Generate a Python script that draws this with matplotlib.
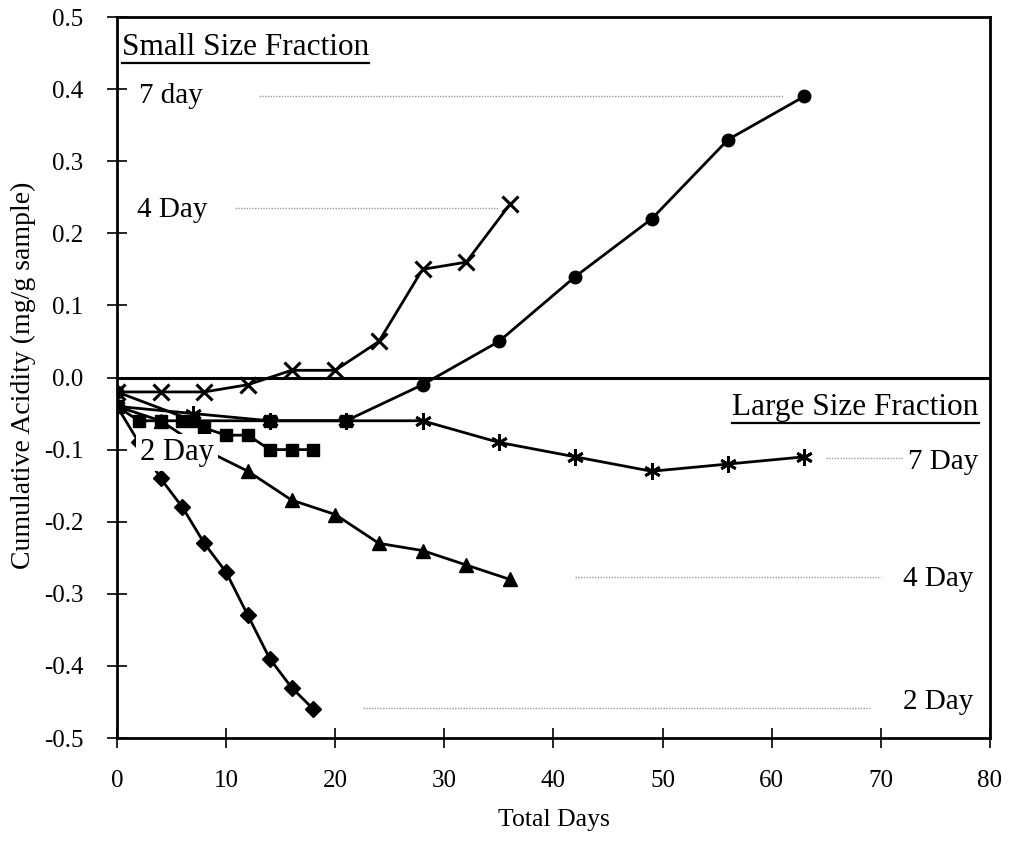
import matplotlib
matplotlib.use("Agg")
import matplotlib.pyplot as plt
from matplotlib.lines import Line2D

plt.rcParams['font.family'] = ['Liberation Serif', 'DejaVu Serif']

# ---- data ----
small7_days = [0, 7, 14, 21, 28, 35, 42, 49, 56, 63]
small7_vals = [-0.02, -0.06, -0.06, -0.06, -0.01, 0.05, 0.14, 0.22, 0.33, 0.39]

small4_days = [0, 4, 8, 12, 16, 20, 24, 28, 32, 36]
small4_vals = [-0.02, -0.02, -0.02, -0.01, 0.01, 0.01, 0.05, 0.15, 0.16, 0.24]

small2_days = [0, 2, 4, 6, 8, 10, 12, 14, 16, 18]
small2_vals = [-0.04, -0.06, -0.06, -0.06, -0.07, -0.08, -0.08, -0.10, -0.10, -0.10]

large7_days = [0, 7, 14, 21, 28, 35, 42, 49, 56, 63]
large7_vals = [-0.04, -0.05, -0.06, -0.06, -0.06, -0.09, -0.11, -0.13, -0.12, -0.11]

large4_days = [0, 4, 8, 12, 16, 20, 24, 28, 32, 36]
large4_vals = [-0.04, -0.06, -0.10, -0.13, -0.17, -0.19, -0.23, -0.24, -0.26, -0.28]

large2_days = [0, 2, 4, 6, 8, 10, 12, 14, 16, 18]
large2_vals = [-0.04, -0.09, -0.14, -0.18, -0.23, -0.27, -0.33, -0.39, -0.43, -0.46]

x_ticks = [0, 10, 20, 30, 40, 50, 60, 70, 80]
y_ticks = [-0.5, -0.4, -0.3, -0.2, -0.1, 0.0, 0.1, 0.2, 0.3, 0.4, 0.5]

fig = plt.figure(figsize=(10.19, 8.42), dpi=100)
ax = fig.add_axes([0.1148, 0.1235, 0.8567, 0.8563])

lw = 2.0
ms = 8
# zero line
ax.axhline(0, color='black', lw=2.2, zorder=1)

ax.plot(large2_days, large2_vals, color='black', lw=lw, marker='D', ms=8.5, zorder=3)
ax.plot(large4_days, large4_vals, color='black', lw=lw, marker='^', ms=10, zorder=3)
ax.plot(large7_days, large7_vals, color='black', lw=lw, marker=(6, 2, 0), ms=12, mew=2, zorder=3)
ax.plot(small2_days, small2_vals, color='black', lw=lw, marker='s', ms=ms, zorder=3)
ax.plot(small4_days, small4_vals, color='black', lw=lw, marker='x', ms=11, mew=2.2, zorder=3)
# small 7-day: squares for early points, circles afterwards
ax.plot(small7_days, small7_vals, color='black', lw=lw, zorder=3)
ax.plot(small7_days[1:4], small7_vals[1:4], ls='none', color='black', marker='s', ms=ms, zorder=4)
ax.plot([small7_days[0]] + small7_days[4:], [small7_vals[0]] + small7_vals[4:], ls='none',
        color='black', marker='o', ms=9, zorder=4)

ax.set_xlim(0, 80)
ax.set_ylim(-0.5, 0.5)
ax.set_xticks(x_ticks)
ax.set_yticks(y_ticks)
ax.set_xticklabels([str(t) for t in x_ticks])
ax.set_yticklabels([f"{t:.1f}" for t in y_ticks])
ax.tick_params(axis='both', direction='inout', length=14, width=1.2, labelsize=18, colors='black')
ax.tick_params(axis='x', pad=16)
ax.tick_params(axis='y', pad=17)
for s in ax.spines.values():
    s.set_linewidth(2)

ax.set_xlabel("Total Days", fontsize=18.5, labelpad=12)
ax.set_ylabel("Cumulative Acidity (mg/g sample)", fontsize=20, va='center', ha='center')
ax.yaxis.set_label_coords(-0.1077, 0.503)

fs = 21
dot = dict(color='#9a9a9a', lw=1.0, ls=(0, (1, 1)), zorder=2)
# small labels
ax.text(2.0, 0.39, "7 day", fontsize=fs, va='center', ha='left')
ax.plot([13, 61], [0.39, 0.39], **dot)
ax.text(1.8, 0.233, "4 Day", fontsize=fs, va='center', ha='left')
ax.plot([10.8, 35], [0.235, 0.235], **dot)
# large labels
ax.text(72.5, -0.117, "7 Day", fontsize=fs, va='center', ha='left')
ax.plot([65, 72], [-0.112, -0.112], **dot)
ax.text(72.0, -0.28, "4 Day", fontsize=fs, va='center', ha='left')
ax.plot([42, 70], [-0.277, -0.277], **dot)
ax.text(72.0, -0.45, "2 Day", fontsize=fs, va='center', ha='left')
ax.plot([22.5, 69], [-0.458, -0.458], **dot)
# 2 Day small label covering lines
ax.text(5.5, -0.104, "2 Day", fontsize=22, va='center', ha='center', zorder=6,
        bbox=dict(facecolor='white', edgecolor='none', pad=3))

# underlined section headings
t1 = ax.text(0.006, 0.958, "Small Size Fraction", transform=ax.transAxes, fontsize=22.5,
             ha='left', va='center')
t2 = ax.text(0.987, 0.459, "Large Size Fraction", transform=ax.transAxes, fontsize=22.5,
             ha='right', va='center')
fig.canvas.draw()
r = fig.canvas.get_renderer()
inv = ax.transAxes.inverted()
for t in (t1, t2):
    bb = t.get_window_extent(r)
    (x0, y0), (x1, y1) = inv.transform([(bb.x0, bb.y0), (bb.x1, bb.y1)])
    ax.add_line(Line2D([x0, x1], [y0 - 0.002, y0 - 0.002], transform=ax.transAxes,
                       color='black', lw=1.6))

fig.savefig("out.png", dpi=100)
